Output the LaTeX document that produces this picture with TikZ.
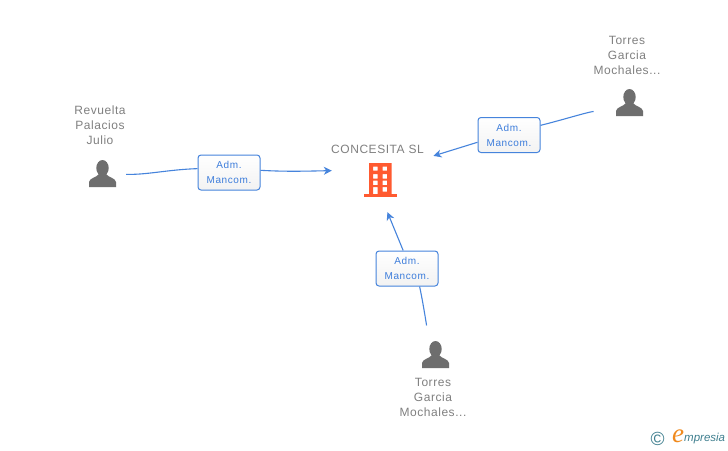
\documentclass[tikz,border=0pt]{standalone}
\usepackage{fontspec}
\setmainfont{Liberation Sans}
\newfontfamily\namefont[LetterSpace=4.5]{Liberation Sans}
\newfontfamily\boxfont[LetterSpace=6]{Liberation Sans}
\newfontfamily\logoserif{Liberation Serif}
\usetikzlibrary{arrows.meta,calc}
\definecolor{txtgray}{HTML}{808080}
\definecolor{icongray}{HTML}{6E6E6E}
\definecolor{linkblue}{HTML}{4684DC}
\definecolor{boxtxt}{HTML}{3D7DDB}
\definecolor{bldorange}{HTML}{FF5A30}
\definecolor{logoteal}{HTML}{3F7F8F}
\definecolor{logoorange}{HTML}{F08A1E}
\tikzset{
  persontxt/.style={text=txtgray,font=\namefont\fontsize{12}{15}\selectfont,align=center,anchor=center,inner sep=0pt},
  personbox/.style={minimum width=28pt,minimum height=28pt,inner sep=0pt},
  rolebox/.style={draw=linkblue,line width=1pt,rounded corners=3pt,top color=white,bottom color=white!95!black,
    text=boxtxt,font=\boxfont\fontsize{10}{15}\selectfont,align=center,minimum width=62pt,minimum height=35pt,inner sep=0pt},
  link/.style={draw=linkblue,line width=1.1pt},
  linkarrow/.style={link,-{Stealth[length=8pt,width=8pt,inset=2.5pt]}},
  hub/.style={minimum width=96pt,minimum height=64pt,inner sep=0pt}
}
\newcommand{\personicon}[1]{%
  \fill[icongray] ($(#1)+(0,-6)$) ellipse (6.2pt and 8pt);
  \fill[icongray] ($(#1)+(-13.5,13)$) -- ($(#1)+(-13.5,8)$)
    .. controls ($(#1)+(-13,4)$) and ($(#1)+(-6,3.5)$) .. ($(#1)+(-3.5,0)$)
    -- ($(#1)+(3.5,0)$)
    .. controls ($(#1)+(6,3.5)$) and ($(#1)+(13,4)$) .. ($(#1)+(13.5,8)$)
    -- ($(#1)+(13.5,13)$) -- cycle;
}
\begin{document}
\begin{tikzpicture}[x=1pt,y=-1pt]
\useasboundingbox[fill=white] (0,0) rectangle (728,450);

% hub
\node[hub] (c) at (380,180) {};
\node[text=txtgray,font=\namefont\fontsize{12}{14}\selectfont,inner sep=0pt] (ct) at (377.5,149) {CONCESITA SL};
\fill[bldorange] (364,193.5) rectangle (396.5,197);
\fill[bldorange,even odd rule] (369,163) rectangle (391.5,194)
  (373,166.7) rectangle (377.5,170.7) (382.7,166.7) rectangle (387,170.7)
  (373,174) rectangle (377.5,178.5) (382.7,174) rectangle (387,178.5)
  (373,180.7) rectangle (377.5,185) (382.7,180.7) rectangle (387,185)
  (373,187) rectangle (377.5,194) (382.7,187) rectangle (387,191.7);

% persons
\node[personbox] (p1) at (102.5,174) {};
\node[personbox] (p2) at (629.5,103) {};
\node[personbox] (p3) at (435.5,355) {};
\personicon{p1.center}
\personicon{p2.center}
\personicon{p3.center}
\node[persontxt] (t1) at (100,125.5) {Revuelta\\Palacios\\Julio};
\node[persontxt] (t2) at (627,55) {Torres\\Garcia\\Mochales...};
\node[persontxt] (t3) at (433,397) {Torres\\Garcia\\Mochales...};

% role boxes
\node[rolebox] (b1) at (229,172.5) {Adm.\\Mancom.};
\node[rolebox] (b2) at (509,135) {Adm.\\Mancom.};
\node[rolebox] (b3) at (407,268.5) {Adm.\\Mancom.};

% connectors
\draw[link,shorten <=9.5pt] (p1.east) .. controls +(30,1) and +(-30,1) .. (b1.173.6);
\draw[linkarrow] (b1.4.6) .. controls +(25,1.5) and +(-25,0.5) .. (c.169.4);
\draw[link,shorten <=22pt] (p2.200) .. controls +(-30,4.5) and +(24,-6) .. (b2.17.9);
\draw[linkarrow,shorten >=5.5pt] (b2.-167.3) -- (c.25.1);
\draw[link,shorten <=15.5pt] (p3.115) .. controls +(-3,-20) and +(3,14) .. (b3.-55.6);
\draw[linkarrow] (b3.102.9) -- (c.-77.7);

% logo
\node[text=logoteal,font=\fontsize{19}{19}\selectfont,inner sep=0pt] (lc) at (657.5,438.5) {©};
\node[text=logoorange,font=\logoserif\itshape\fontsize{27}{27}\selectfont,inner sep=0pt] (le) at (678,436) {e};
\node[text=logoteal,font=\itshape\fontsize{11.5}{12}\selectfont,inner sep=0pt,anchor=west] (lt) at (684,439) {mpresia};
\end{tikzpicture}
\end{document}
